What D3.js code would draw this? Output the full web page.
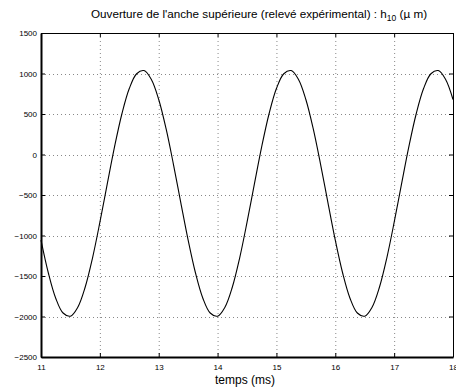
<!DOCTYPE html>
<html>
<head>
<meta charset="utf-8">
<script src="https://cdn.jsdelivr.net/npm/d3@7"></script>
<style>
  html, body { margin: 0; padding: 0; background: #fff; }
  svg { display: block; font-family: "Liberation Sans", Arial, Helvetica, sans-serif; }
</style>
</head>
<body>
<svg id="chart" width="456" height="388"></svg>
<script>
// Sampling instants (ms), one every 0.125 ms from 11 to 18
const tStart = 11;
const tStep = 0.125;
// Upper reed opening h10 (µm), measured samples
const h10 = [
  -1057, -1463, -1774, -1957, -1996, -1886, -1639, -1278, -839, -366,
  97, 503, 814, 997, 1036, 926, 679, 318, -121, -594,
  -1057, -1463, -1774, -1957, -1996, -1886, -1639, -1278, -839, -366,
  97, 503, 814, 997, 1036, 926, 679, 318, -121, -594,
  -1057, -1463, -1774, -1957, -1996, -1886, -1639, -1278, -839, -366,
  97, 503, 814, 997, 1036, 926, 679
];
const xTicks = [11, 12, 13, 14, 15, 16, 17, 18];
const yTicks = [-2500, -2000, -1500, -1000, -500, 0, 500, 1000, 1500];

const svg = d3.select("#chart");
const m = { left: 41, right: 453, top: 33, bottom: 357 };

const x = d3.scaleLinear().domain([11, 18]).range([m.left, m.right]);
const y = d3.scaleLinear().domain([-2500, 1500]).range([m.bottom, m.top]);

const data = h10.map((v, i) => ({ t: tStart + i * tStep, v }));

// Dotted grid
const grid = svg.append("g");
grid.selectAll("line.gx").data(xTicks.slice(1, -1)).join("line")
  .attr("x1", d => x(d) + 0.5).attr("x2", d => x(d) + 0.5)
  .attr("y1", m.top).attr("y2", m.bottom)
  .attr("stroke", "#888").attr("stroke-width", 1).attr("stroke-dasharray", "1,3");
grid.selectAll("line.gy").data(yTicks.slice(1, -1)).join("line")
  .attr("y1", d => Math.round(y(d)) + 0.5).attr("y2", d => Math.round(y(d)) + 0.5)
  .attr("x1", m.left).attr("x2", m.right)
  .attr("stroke", "#888").attr("stroke-width", 1).attr("stroke-dasharray", "1,3");

// Curve
svg.append("path")
  .datum(data)
  .attr("fill", "none")
  .attr("stroke", "#000")
  .attr("stroke-width", 1.1)
  .attr("d", d3.line().x(d => x(d.t)).y(d => y(d.v)).curve(d3.curveCatmullRom.alpha(0.5)));

// Axes (ticks pointing inward, on all four sides)
const fmt = d3.format("d");
const axB = svg.append("g").attr("transform", `translate(0,${m.bottom})`)
  .call(d3.axisBottom(x).tickValues(xTicks).tickFormat(fmt).tickSizeInner(-4).tickSizeOuter(0).tickPadding(7));
const axT = svg.append("g").attr("transform", `translate(0,${m.top})`)
  .call(d3.axisTop(x).tickValues(xTicks).tickFormat("").tickSizeInner(-4).tickSizeOuter(0));
const axL = svg.append("g").attr("transform", `translate(${m.left},0)`)
  .call(d3.axisLeft(y).tickValues(yTicks).tickFormat(fmt).tickSizeInner(-4).tickSizeOuter(0).tickPadding(4));
const axR = svg.append("g").attr("transform", `translate(${m.right},0)`)
  .call(d3.axisRight(y).tickValues(yTicks).tickFormat("").tickSizeInner(-4).tickSizeOuter(0));

[axB, axT, axL, axR].forEach(a => {
  a.selectAll("text").attr("font-size", 8).attr("fill", "#000")
    .attr("font-family", "'Liberation Sans', Arial, sans-serif");
  a.selectAll("line").attr("stroke", "#000");
  a.select(".domain").attr("stroke", "#000");
});
axL.select(".domain").attr("stroke-width", 2);
axB.select(".domain").attr("stroke-width", 2);

// Title with subscript
const title = svg.append("text")
  .attr("x", 259)
  .attr("y", 18)
  .attr("text-anchor", "middle")
  .attr("font-size", 11.7)
  .attr("fill", "#000");
title.append("tspan").text("Ouverture de l'anche supérieure (relevé expérimental) : h");
title.append("tspan").attr("font-size", 8.5).attr("dy", 3).text("10");
title.append("tspan").attr("dy", -3).text(" (µ m)");

// X label
svg.append("text")
  .attr("x", 245)
  .attr("y", 384)
  .attr("text-anchor", "middle")
  .attr("font-size", 12)
  .attr("fill", "#000")
  .text("temps (ms)");
</script>
</body>
</html>
